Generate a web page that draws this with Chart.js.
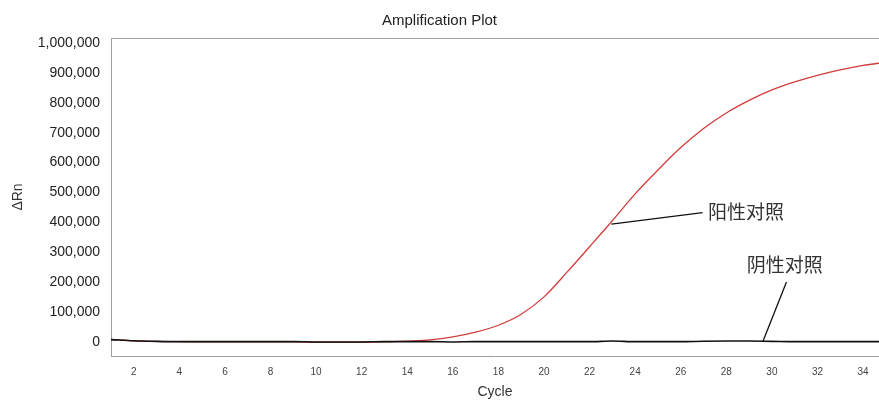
<!DOCTYPE html>
<html>
<head>
<meta charset="utf-8">
<script src="https://cdn.jsdelivr.net/npm/chart.js@4.4.1/dist/chart.umd.min.js"></script>
<style>
  html, body { margin: 0; padding: 0; background: #fff; }
  #wrap { width: 879px; height: 401px; }
</style>
</head>
<body>
<div id="wrap"><canvas id="ampChart"></canvas></div>
<script>
// Cycli en gemeten dRn-waarden
const cycles = [1, 2, 3, 4, 5, 6, 7, 8, 9, 10, 11, 12, 13, 14, 15, 16, 17, 18,
  19, 20, 21, 22, 23, 24, 25, 26, 27, 28, 29, 30, 31, 32, 33, 34, 35];
const positiveCtrl = [8000, 3000, 1000, 0, -1000, -1000, -1000, -1000, -1000, -2000,
  -2000, -2000, -1000, 2000, 6000, 16000, 32000, 55000, 92000, 150000, 232000,
  318000, 405000, 495000, 575000, 650000, 714000, 766000, 808000, 843000,
  870000, 892000, 910000, 925000, 936000];
const negativeCtrl = [7000, 3000, 1000, 0, 0, 0, 0, 0, 0, -1000, -1000, -1000, 0,
  0, 0, -1000, 0, 0, 0, 0, 0, 0, 2000, 0, 0, 0, 1500, 2000, 2000, 1000,
  0, 0, 0, 0, 0];
const xTicks = [2, 4, 6, 8, 10, 12, 14, 16, 18, 20, 22, 24, 26, 28, 30, 32, 34];
const yTicks = [0, 100000, 200000, 300000, 400000, 500000, 600000, 700000,
  800000, 900000, 1000000];

// Labels met aanwijslijn (in data-eenheden)
const labels = [
  { text: "阳性对照", from: [22.96, 394000], to: [26.96, 432000], at: [27.2, 436000] },
  { text: "阴性对照", from: [30.64, 200000], to: [29.6, 0], at: [28.9, 257000] }
];

const annotate = {
  id: "annotate",
  afterDraw(chart) {
    const { ctx, chartArea, scales: { x, y } } = chart;
    ctx.save();
    // bovenrand
    ctx.strokeStyle = "#a0a0a0";
    ctx.lineWidth = 1;
    ctx.beginPath();
    ctx.moveTo(chartArea.left, chartArea.top + 0.5);
    ctx.lineTo(chartArea.right, chartArea.top + 0.5);
    ctx.stroke();

    ctx.strokeStyle = "#111";
    ctx.lineWidth = 1.3;
    ctx.fillStyle = "#333";
    ctx.font = "19px 'Noto Sans CJK SC'";
    ctx.textBaseline = "middle";
    labels.forEach(l => {
      ctx.beginPath();
      ctx.moveTo(x.getPixelForValue(l.from[0]), y.getPixelForValue(l.from[1]));
      ctx.lineTo(x.getPixelForValue(l.to[0]), y.getPixelForValue(l.to[1]));
      ctx.stroke();
      ctx.fillText(l.text, x.getPixelForValue(l.at[0]), y.getPixelForValue(l.at[1]));
    });
    ctx.restore();
  }
};

new Chart(document.getElementById("ampChart"), {
  type: "line",
  data: {
    labels: cycles,
    datasets: [
      {
        label: "阴性对照",
        data: cycles.map((c, i) => ({ x: c, y: negativeCtrl[i] })),
        borderColor: "#111",
        borderWidth: 1.6,
        pointRadius: 0,
        cubicInterpolationMode: "monotone"
      },
      {
        label: "阳性对照",
        data: cycles.map((c, i) => ({ x: c, y: positiveCtrl[i] })),
        borderColor: "#d23c3c",
        borderWidth: 1.3,
        pointRadius: 0,
        cubicInterpolationMode: "monotone"
      }
    ]
  },
  options: {
    responsive: true,
    maintainAspectRatio: false,
    animation: false,
    layout: { padding: { left: 0, right: 0, top: 0, bottom: 0 } },
    scales: {
      x: {
        type: "linear",
        min: 1,
        max: 34.7,
        grid: { display: false },
        border: { color: "#a0a0a0" },
        afterBuildTicks: s => { s.ticks = xTicks.map(v => ({ value: v })); },
        afterFit: s => { s.height = 45; },
        ticks: {
          autoSkip: false,
          maxRotation: 0,
          padding: 2,
          color: "#444",
          font: { family: "'Liberation Sans', Arial", size: 10 }
        },
        title: {
          display: true,
          text: "Cycle",
          color: "#333",
          padding: { top: 5, bottom: 0 },
          font: { family: "'Liberation Sans', Arial", size: 14 }
        }
      },
      y: {
        min: -48000,
        max: 1017000,
        grid: { display: false },
        border: { color: "#a0a0a0" },
        afterBuildTicks: s => { s.ticks = yTicks.map(v => ({ value: v })); },
        afterFit: s => { s.width = 111; },
        ticks: {
          padding: 3,
          color: "#222",
          font: { family: "'Liberation Sans', Arial", size: 14 },
          callback: v => v.toLocaleString("en-US")
        },
        title: {
          display: true,
          text: "ΔRn",
          color: "#333",
          padding: { top: 10, bottom: 0 },
          font: { family: "'Liberation Sans', Arial", size: 14 }
        }
      }
    },
    plugins: {
      legend: { display: false },
      tooltip: { enabled: false },
      title: {
        display: true,
        text: "Amplification Plot",
        color: "#222",
        padding: { top: 12, bottom: 8 },
        font: { family: "'Liberation Sans', Arial", size: 15, weight: "normal" }
      }
    }
  },
  plugins: [annotate]
});
</script>
</body>
</html>
